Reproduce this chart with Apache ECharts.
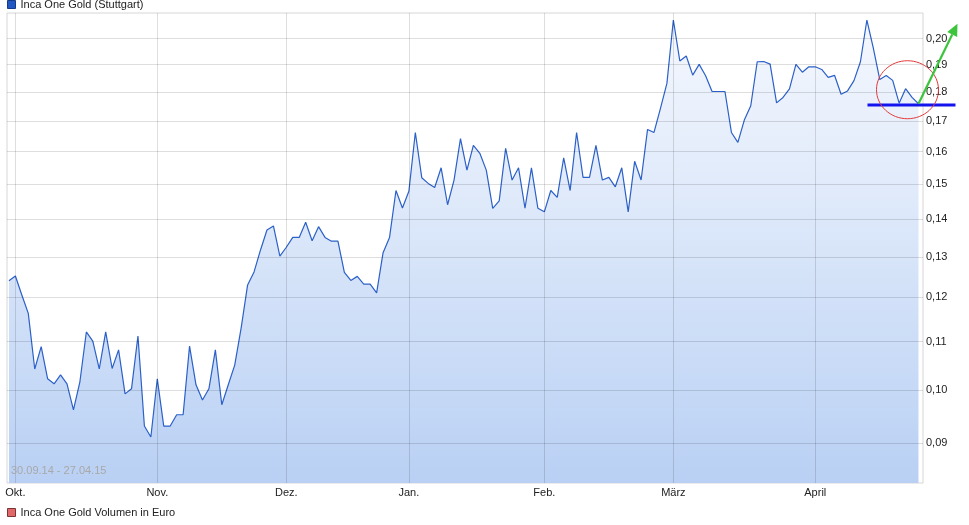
<!DOCTYPE html>
<html><head><meta charset="utf-8">
<script src="https://cdn.jsdelivr.net/npm/echarts@6/dist/echarts.min.js"></script>
<style>html,body{margin:0;padding:0;background:#fff}#c{width:969px;height:525px}</style>
</head><body><div id="c"></div>
<script>
// Closing prices (EUR), trading days 30.09.14 - 27.04.15
const sep = [0.1240];
const okt = [0.1252, 0.1206, 0.1163, 0.1042, 0.1089, 0.1022, 0.1012, 0.1030, 0.1012, 0.0961, 0.1016, 0.1121, 0.1101, 0.1042, 0.1121, 0.1043, 0.1082, 0.0992, 0.1002, 0.1112, 0.0931, 0.0911];
const nov = [0.1022, 0.0931, 0.0931, 0.0952, 0.0952, 0.1090, 0.1010, 0.0980, 0.1002, 0.1082, 0.0971, 0.1010, 0.1050, 0.1130, 0.1230, 0.1262, 0.1318, 0.1371, 0.1382, 0.1302];
const dez = [0.1325, 0.1351, 0.1351, 0.1392, 0.1342, 0.1380, 0.1351, 0.1341, 0.1341, 0.1261, 0.1241, 0.1251, 0.1232, 0.1232, 0.1211, 0.1311, 0.1351, 0.1482, 0.1432];
const jan = [0.1480, 0.1662, 0.1520, 0.1503, 0.1491, 0.1550, 0.1441, 0.1513, 0.1642, 0.1543, 0.1620, 0.1595, 0.1543, 0.1431, 0.1452, 0.1611, 0.1513, 0.1550, 0.1431, 0.1550, 0.1431];
const feb = [0.1421, 0.1482, 0.1462, 0.1581, 0.1482, 0.1662, 0.1521, 0.1521, 0.1620, 0.1513, 0.1521, 0.1493, 0.1550, 0.1421, 0.1570, 0.1513, 0.1672, 0.1662, 0.1743, 0.1831];
const mar = [0.2075, 0.1914, 0.1933, 0.1861, 0.1901, 0.1859, 0.1802, 0.1802, 0.1802, 0.1662, 0.1630, 0.1703, 0.1752, 0.1911, 0.1912, 0.1902, 0.1762, 0.1781, 0.1811, 0.1901, 0.1872, 0.1892];
const apr = [0.1892, 0.1882, 0.1853, 0.1860, 0.1792, 0.1804, 0.1841, 0.1911, 0.2075, 0.1963, 0.1845, 0.1860, 0.1842, 0.1761, 0.1812, 0.1781, 0.1759];

const monthNames = ['Okt.', 'Nov.', 'Dez.', 'Jan.', 'Feb.', 'März', 'April'];
const yTicks = [0.09, 0.10, 0.11, 0.12, 0.13, 0.14, 0.15, 0.16, 0.17, 0.18, 0.19, 0.20];
const supportLevel = 0.1755;
const priceName = 'Inca One Gold (Stuttgart)';
const volumeName = 'Inca One Gold Volumen in Euro';
const rangeText = '30.09.14 - 27.04.15';

const monthly = [okt, nov, dez, jan, feb, mar, apr];
const prices = sep.concat(...monthly);
const monthStart = [];
let k = sep.length;
monthly.forEach(m => { monthStart.push(k); k += m.length; });

const FONT = 'Liberation Sans';
const chart = echarts.init(document.getElementById('c'), null, {renderer: 'canvas'});

const markData = yTicks.map(v => ({
  name: v.toFixed(2).replace('.', ','), yAxis: v,
  label: {show: true, position: 'end', distance: 3, formatter: '{b}', color: '#222', fontSize: 11, fontFamily: FONT}
})).concat(monthStart.map(i => ({xAxis: i, label: {show: false}})));

chart.setOption({
  animation: false,
  backgroundColor: '#fff',
  textStyle: {fontFamily: FONT},
  title: {text: rangeText, left: 11, top: 465, padding: 0,
    textStyle: {fontSize: 11, fontWeight: 'normal', color: '#a8a8a8', fontFamily: FONT}},
  legend: [
    {data: [{name: priceName, itemStyle: {color: '#2258c4', borderColor: '#163c88', borderWidth: 1}}],
     left: 7, top: -1, padding: 0, icon: 'rect', itemWidth: 8, itemHeight: 8, itemGap: 5, selectedMode: false,
     textStyle: {fontSize: 11, color: '#222', fontFamily: FONT}},
    {data: [{name: volumeName, itemStyle: {color: '#e06868', borderColor: '#7a3434', borderWidth: 1}}],
     left: 7, top: 507, padding: 0, icon: 'rect', itemWidth: 8, itemHeight: 8, selectedMode: false,
     textStyle: {fontSize: 11, color: '#222', fontFamily: FONT}}
  ],
  grid: {left: 7, right: 46, top: 13, bottom: 42, show: true, borderColor: '#d6d6d6', borderWidth: 1, backgroundColor: '#fff'},
  xAxis: {
    type: 'value', min: -0.3, max: prices.length - 1 + 0.7,
    axisLine: {show: false}, axisTick: {show: false}, splitLine: {show: false},
    axisLabel: {customValues: monthStart, margin: 4, color: '#222', fontSize: 11, fontFamily: FONT,
      formatter: v => { const j = monthStart.indexOf(Math.round(v)); return j >= 0 ? monthNames[j] : ''; }}
  },
  yAxis: {
    type: 'log', logBase: 10, min: 0.0832, max: 0.2104, position: 'right',
    axisLine: {show: false}, axisTick: {show: false}, splitLine: {show: false}, axisLabel: {show: false}
  },
  series: [
    {
      name: priceName, type: 'line', symbol: 'none', z: 3,
      data: prices.map((v, i) => [i, v]),
      lineStyle: {color: '#2b60c8', width: 1.2},
      itemStyle: {color: '#2258c4'},
      areaStyle: {opacity: 1, color: new echarts.graphic.LinearGradient(0, 0, 0, 1, [
        {offset: 0, color: '#f5f8fe'}, {offset: 0.5, color: '#d8e5f9'}, {offset: 1, color: '#b9d0f4'}])},
      markLine: {silent: true, symbol: ['none', 'none'], animation: false,
        lineStyle: {color: 'rgba(0,0,0,0.13)', type: 'solid', width: 1},
        emphasis: {disabled: true},
        data: markData}
    },
    {name: volumeName, type: 'bar', data: [], itemStyle: {color: '#e06868'}}
  ]
});

// hand-drawn style annotations anchored at the last price
const last = prices.length - 1;
const p = chart.convertToPixel({gridIndex: 0}, [last, prices[last]]);
const s = chart.convertToPixel({gridIndex: 0}, [last, supportLevel]);
const tip = [p[0] + 39, p[1] - 80];
const ang = Math.atan2(tip[1] - p[1], tip[0] - p[0]);
const hl = 12, hw = 5.5;
const bx = tip[0] - hl * Math.cos(ang), by = tip[1] - hl * Math.sin(ang);
const nx = -Math.sin(ang), ny = Math.cos(ang);
chart.setOption({
  graphic: [
    {type: 'line', z: 100, shape: {x1: p[0] - 51, y1: s[1], x2: p[0] + 37, y2: s[1]}, style: {stroke: '#1414ee', lineWidth: 3}},
    {type: 'ellipse', z: 100, shape: {cx: p[0] - 11, cy: p[1] - 14, rx: 31, ry: 29}, style: {stroke: '#e43a3a', lineWidth: 1, fill: null}},
    {type: 'line', z: 101, shape: {x1: p[0], y1: p[1], x2: bx, y2: by}, style: {stroke: '#3cc43c', lineWidth: 2.2}},
    {type: 'polygon', z: 101, shape: {points: [tip, [bx + nx * hw, by + ny * hw], [bx - nx * hw, by - ny * hw]]}, style: {fill: '#3cc43c'}}
  ]
});
</script>
</body></html>
